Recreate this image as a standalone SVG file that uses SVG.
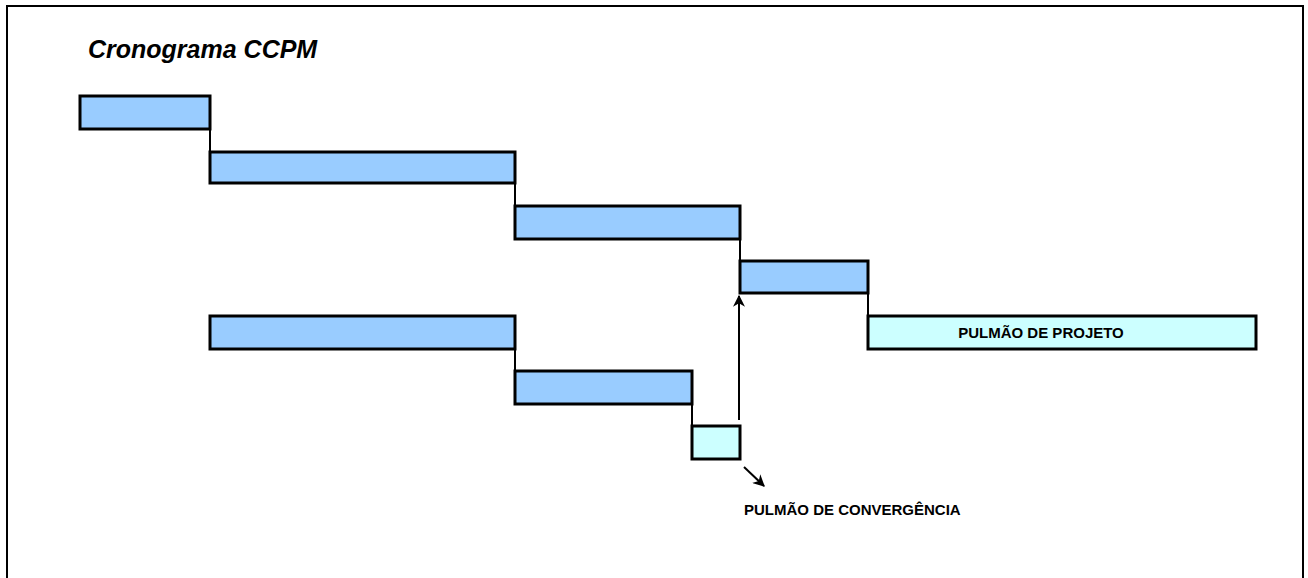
<svg xmlns="http://www.w3.org/2000/svg" width="1308" height="578" viewBox="0 0 1308 578">
<style>
.bar{fill:#99CCFF;stroke:#000;stroke-width:3}
.buf{fill:#CCFFFF;stroke:#000;stroke-width:3}
.ln{stroke:#000;stroke-width:2;fill:none}
.lbl{font-family:"Liberation Sans",Arial,sans-serif;font-weight:bold;font-size:15px;fill:#000}
</style>
<defs>
<marker id="ah2" viewBox="0 0 10 10" refX="9" refY="5" markerWidth="12" markerHeight="12" orient="auto" markerUnits="userSpaceOnUse">
<path d="M0,0 L10,5 L0,10 L3,5 Z" fill="#000"/>
</marker>
</defs>
<rect x="7" y="6" width="1296" height="590" fill="#fff" stroke="#000" stroke-width="2"/>
<text x="88" y="58" font-family="'Liberation Sans',Arial,sans-serif" font-weight="bold" font-style="italic" font-size="25">Cronograma CCPM</text>
<g id="connectors">
<line class="ln" x1="210" y1="129" x2="210" y2="152"/>
<line class="ln" x1="515" y1="183" x2="515" y2="206"/>
<line class="ln" x1="740" y1="239" x2="740" y2="261"/>
<line class="ln" x1="868" y1="293" x2="868" y2="316"/>
<line class="ln" x1="515" y1="349" x2="515" y2="371"/>
<line class="ln" x1="692" y1="404" x2="692" y2="426"/>
<line class="ln" x1="739" y1="420" x2="739" y2="296" marker-end="url(#ah2)"/>
<line class="ln" x1="744" y1="467" x2="764" y2="486" marker-end="url(#ah2)"/>
</g>
<g id="task1"><rect class="bar" x="80" y="96" width="130" height="33"/></g>
<g id="task2"><rect class="bar" x="210" y="152" width="305" height="31"/></g>
<g id="task3"><rect class="bar" x="515" y="206" width="225" height="33"/></g>
<g id="task4"><rect class="bar" x="740" y="261" width="128" height="32"/></g>
<g id="project-buffer"><rect class="buf" x="868" y="316" width="388" height="33"/>
<text class="lbl" x="1041" y="338" text-anchor="middle" font-size="13">PULMÃO DE PROJETO</text></g>
<g id="task5"><rect class="bar" x="210" y="316" width="305" height="33"/></g>
<g id="task6"><rect class="bar" x="515" y="371" width="177" height="33"/></g>
<g id="convergence-buffer"><rect class="buf" x="692" y="426" width="48" height="33"/></g>
<g id="convergence-label"><text class="lbl" x="744" y="515">PULMÃO DE CONVERGÊNCIA</text></g>
</svg>
